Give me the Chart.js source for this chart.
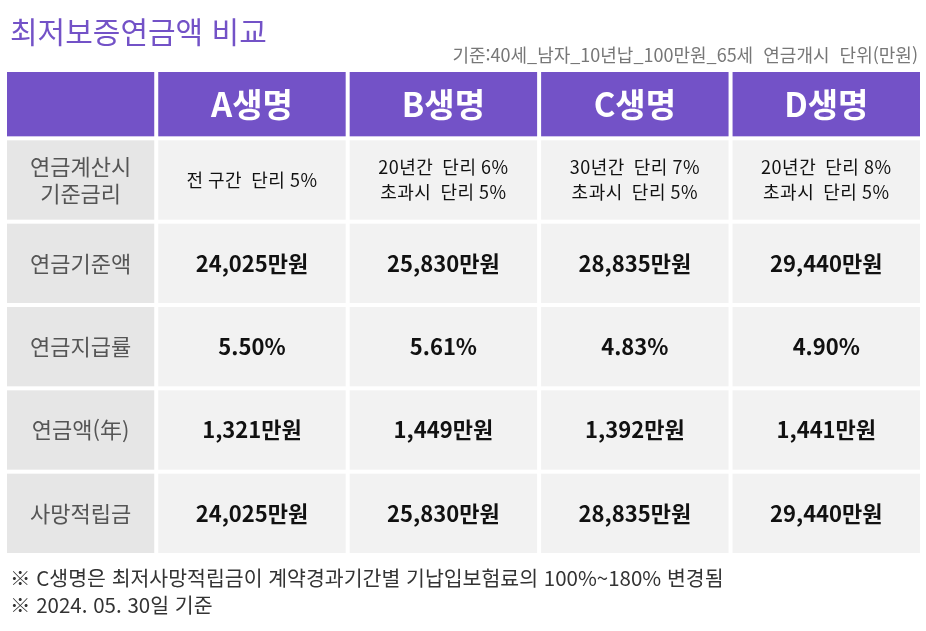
<!DOCTYPE html>
<html lang="ko">
<head>
<meta charset="UTF-8">
<title>최저보증연금액 비교</title>
<script src="https://cdn.jsdelivr.net/npm/chart.js"></script>
<style>
    body { margin: 0; background: #fff; font-family: "Noto Sans CJK KR", "Noto Sans", sans-serif; }
    #wrap { position: relative; width: 926px; height: 631px; }
    .title { position: absolute; left: 10px; top: 8px; font-size: 30px; color: #7352c7; }
    .sub { position: absolute; right: 8px; top: 41px; font-size: 18px; color: #777; }
    .note { position: absolute; left: 10px; font-size: 20.5px; color: #333; }
</style>
</head>
<body>
<div id="wrap">
    <canvas id="tbl" width="926" height="631"></canvas>
    <div class="title">최저보증연금액 비교</div>
    <div class="sub">기준:40세_남자_10년납_100만원_65세&nbsp; 연금개시&nbsp; 단위(만원)</div>
    <div class="note" style="top:562px">※ C생명은 최저사망적립금이 계약경과기간별 기납입보험료의 100%~180% 변경됨</div>
    <div class="note" style="top:589px">※ 2024. 05. 30일 기준</div>
</div>
<script>
    const companies = ['A생명', 'B생명', 'C생명', 'D생명'];
    const rowLabels = [['연금계산시', '기준금리'], ['연금기준액'], ['연금지급률'], ['연금액(年)'], ['사망적립금']];
    const rateBasis = [['전 구간  단리 5%'], ['20년간  단리 6%', '초과시  단리 5%'], ['30년간  단리 7%', '초과시  단리 5%'], ['20년간  단리 8%', '초과시  단리 5%']];
    const baseAmount = ['24,025만원', '25,830만원', '28,835만원', '29,440만원'];
    const payRate = ['5.50%', '5.61%', '4.83%', '4.90%'];
    const annuity = ['1,321만원', '1,449만원', '1,392만원', '1,441만원'];
    const deathReserve = ['24,025만원', '25,830만원', '28,835만원', '29,440만원'];

    // column / row edges in table units
    const colEdges = [0, 0.79, 1.79, 2.79, 3.79, 4.79];
    const rowEdges = [0, 0.82, 1.82, 2.82, 3.82, 4.82, 5.82];

    const bodyRows = [rateBasis, baseAmount, payRate, annuity, deathReserve];

    const tablePlugin = {
        id: 'table',
        afterDraw(chart) {
            const ctx = chart.ctx, x = chart.scales.x, y = chart.scales.y;
            const gap = 2;
            ctx.save();
            ctx.textAlign = 'center';
            ctx.textBaseline = 'middle';
            for (let r = 0; r < 6; r++) {
                for (let c = 0; c < 5; c++) {
                    const x0 = x.getPixelForValue(colEdges[c]) + gap;
                    const x1 = x.getPixelForValue(colEdges[c + 1]) - gap;
                    const y0 = y.getPixelForValue(rowEdges[r]) + gap;
                    const y1 = y.getPixelForValue(rowEdges[r + 1]) - gap;
                    ctx.fillStyle = r === 0 ? '#7352c7' : (c === 0 ? '#e6e6e6' : '#f2f2f2');
                    ctx.fillRect(x0, y0, x1 - x0, y1 - y0);
                    const cx = (x0 + x1) / 2, cy = (y0 + y1) / 2;
                    let lines = [], font, color, lh, sp = '0px';
                    if (r === 0) {
                        if (c > 0) lines = [companies[c - 1]];
                        font = 'bold 33px "Noto Sans CJK KR"'; color = '#fff'; lh = 34;
                    } else if (c === 0) {
                        lines = rowLabels[r - 1];
                        font = '22px "Noto Sans CJK KR"'; color = '#555'; lh = 27;
                    } else if (r === 1) {
                        lines = bodyRows[0][c - 1];
                        font = '18px "Noto Sans CJK KR"'; color = '#111'; lh = 25; sp = '0.5px';
                    } else {
                        lines = [bodyRows[r - 1][c - 1]];
                        font = 'bold 22px "Noto Sans CJK KR"'; color = '#111'; lh = 26;
                    }
                    ctx.font = font; ctx.fillStyle = color; ctx.letterSpacing = sp;
                    lines.forEach((t, i) => ctx.fillText(t, cx, cy + (i - (lines.length - 1) / 2) * lh));
                }
            }
            ctx.restore();
        }
    };

    new Chart(document.getElementById('tbl'), {
        type: 'bar',
        data: { labels: [], datasets: [] },
        options: {
            responsive: false,
            animation: false,
            layout: { padding: { left: 5, right: 4, top: 70, bottom: 76 } },
            plugins: { legend: { display: false }, tooltip: { enabled: false } },
            scales: {
                x: { type: 'linear', min: 0, max: 4.79, offset: false, display: false },
                y: { type: 'linear', min: 0, max: 5.82, reverse: true, offset: false, display: false }
            }
        },
        plugins: [tablePlugin]
    });
</script>
</body>
</html>
